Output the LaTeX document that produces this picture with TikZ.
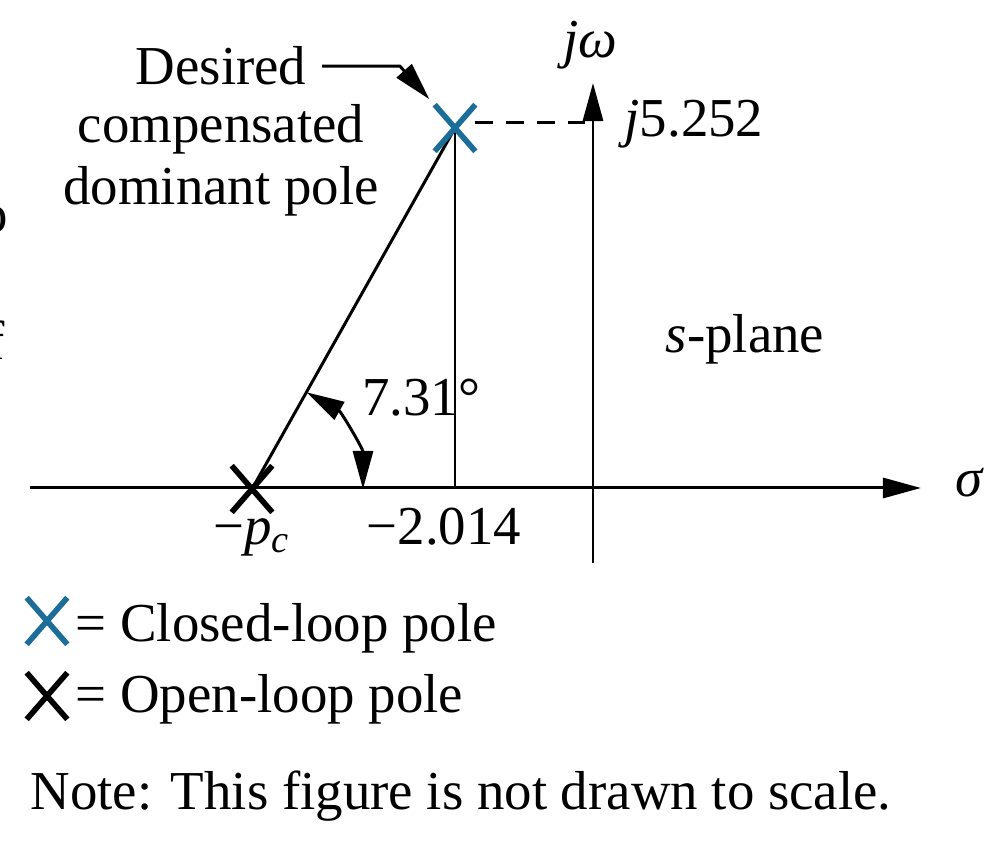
\documentclass[tikz,border=0pt]{standalone}
\usepackage{fontspec}
\setmainfont{Liberation Serif}
\usetikzlibrary{arrows.meta,calc,shapes.misc}
\definecolor{clblue}{RGB}{28,110,153}

\begin{document}
\begin{tikzpicture}[
  x=0.01cm, y=-0.01cm,
  font=\fontsize{15.6}{17}\selectfont,
  >={Triangle[length=0.38cm,width=0.2cm]},
  axis/.style={line width=0.85pt},
  pole/.style={cross out, draw, line width=1.6pt, minimum width=0.35cm, minimum height=0.41cm, inner sep=0pt},
  lbl/.style={anchor=base, inner sep=0pt},
  key/.style={anchor=base west, inner sep=0pt}
]
\useasboundingbox (0,0) rectangle (996,843);

% axes of the s-plane
\coordinate (O) at (593,488);
\coordinate (xl) at (30,488);
\coordinate (xr) at (921,488);
\coordinate (yb) at (593,563);
\coordinate (yt) at (593,83);
\draw[axis,->] (xl) -- (xr);
\draw[axis,->] (yb) -- (yt);

% poles and construction lines
\coordinate (clp) at (455,128);
\coordinate (olp) at (252,489);
\draw[axis] (olp) -- (clp);
\draw[axis] (clp) -- (clp |- O);
\coordinate (a0) at ($(olp)+(111,0)$);
\draw[axis,<->] (a0) arc[start angle=0, end angle=-60.65, radius=111];

\node[pole, draw=clblue] (cl) at (clp) {};
\node[pole] (ol) at (olp) {};
\draw[axis, dash pattern=on 0.18cm off 0.13cm, shorten >=0.08cm]
  ([yshift=0.05cm]cl.east) -- ([yshift=0.05cm]cl.east -| O);

% labels
\node[lbl] (jw) at (590,58) {\textit{jω}};
\node[lbl] (sig) at (970,497) {\textit{σ}};
\node[lbl] (im) at (694,137) {\textit{j}5.252};
\node[lbl] (splane) at (745,353) {\textit{s}-plane};
\node[lbl] (ang) at (421,416) {7.31°};
\node[lbl] (mpc) at (252,545) {−\textit{p}\textsubscript{\textit{c}}};
\node[lbl] (re) at (444,545) {−2.014};

\node[lbl] (desired) at (221,85) {Desired};
\node[lbl] (comp) at (221,143) {compensated};
\node[lbl] (dom) at (221,205) {dominant pole};
\draw[axis,->,shorten >=0.08cm] ([xshift=0.15cm]desired.east) -- ++(78,0) -- (cl);

% legend
\node[pole, draw=clblue] (kcl) at (47,621) {};
\node[key] (kcltxt) at (75,642) {= Closed-loop pole};
\node[pole] (kol) at (47,696) {};
\node[key] (koltxt) at (75,713) {= Open-loop pole};
\node[key] (note) at (30,810) {Note: This figure is not drawn to scale.};

% cut-off letters at the left edge
\node[anchor=base east, inner sep=0pt] (cut1) at (9,233) {o};
\node[anchor=base east, inner sep=0pt] (cut2) at (5,360) {f};
\end{tikzpicture}
\end{document}
